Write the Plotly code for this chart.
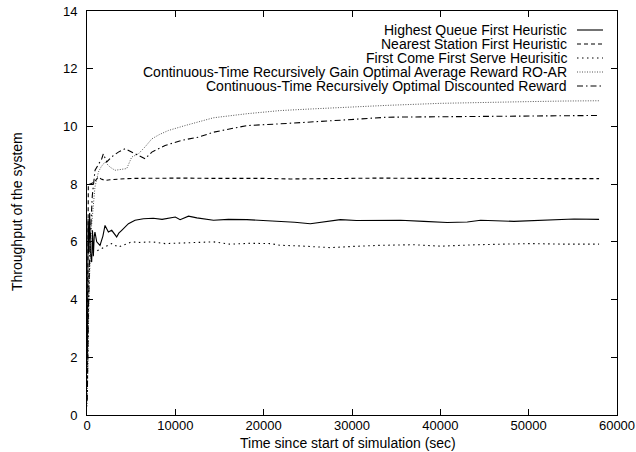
import plotly.graph_objects as go

# ---------------- data ----------------
hqf_t = [50, 120, 200, 300, 400, 530, 620, 720, 820, 900, 1100, 1470, 1800, 2040, 2420, 2800, 3360, 3600, 3930, 4300,
         4690, 5440, 6390, 7500, 8500, 10000, 10540, 11490, 12440, 14320, 16000, 18100, 20000, 21880, 23500, 25280,
         27000, 28680, 30500, 33220, 35490, 38130, 40780, 43050, 44560, 48330, 52870, 55140, 57970]
hqf_y = [2.0, 6.8, 5.6, 7.0, 5.6, 5.3, 6.4, 5.5, 6.2, 6.34, 6.0, 5.88, 6.2, 6.57, 6.34, 6.4, 6.17, 6.3, 6.4, 6.5,
         6.63, 6.75, 6.8, 6.82, 6.78, 6.86, 6.77, 6.89, 6.83, 6.75, 6.78, 6.77, 6.74, 6.72, 6.68, 6.63,
         6.7, 6.77, 6.74, 6.75, 6.75, 6.71, 6.67, 6.69, 6.75, 6.71, 6.77, 6.79, 6.78]

nsf_t = [20, 60, 100, 150, 300, 500, 700, 900, 1100, 1290, 1600, 2040, 2600, 3200, 4310, 5500, 7340, 9000, 11100,
         14000, 17000, 20000, 23000, 26000, 30000, 33220, 37000, 41000, 45000, 50000, 54000, 57970]
nsf_y = [1.0, 5.0, 7.2, 8.0, 8.0, 8.02, 8.05, 8.1, 8.2, 8.25, 8.18, 8.13, 8.15, 8.17, 8.19, 8.2, 8.21, 8.2, 8.21,
         8.2, 8.21, 8.2, 8.18, 8.19, 8.2, 8.21, 8.2, 8.2, 8.19, 8.19, 8.19, 8.19]

fcfs_t = [30, 100, 200, 340, 710, 1200, 1670, 2200, 2800, 3550, 4300, 5060, 6000, 7340, 8840, 10540, 12000, 14320,
          16210, 18500, 20750, 21880, 24000, 27550, 30000, 33220, 37000, 40020, 44000, 47000, 50230, 54000, 57970]
fcfs_y = [0.8, 3.0, 4.8, 5.42, 5.65, 5.7, 5.77, 5.85, 5.94, 5.82, 5.9, 6.0, 5.98, 6.0, 5.94, 5.96, 5.98, 6.0,
          5.92, 5.95, 5.94, 5.88, 5.86, 5.8, 5.84, 5.88, 5.9, 5.85, 5.9, 5.91, 5.94, 5.92, 5.92]

roar_t = [20, 100, 250, 500, 900, 1290, 1600, 2040, 2610, 3170, 3800, 4500, 5060, 5820, 6600, 7340, 8200, 9220,
          11100, 14320, 18100, 21880, 25660, 29440, 33980, 40000, 45000, 50000, 54000, 57970]
roar_y = [0.3, 2.0, 4.5, 6.5, 7.9, 8.42, 8.6, 8.77, 8.59, 8.48, 8.52, 8.54, 8.94, 9.05, 9.3, 9.57, 9.72, 9.86,
          10.03, 10.3, 10.44, 10.55, 10.61, 10.67, 10.73, 10.8, 10.84, 10.86, 10.88, 10.89]

disc_t = [30, 150, 350, 600, 910, 1300, 1670, 1850, 2230, 2800, 3550, 4310, 5060, 5440, 6000, 6580, 7340, 8000,
          8840, 10740, 12620, 14320, 18100, 21880, 25660, 29440, 33980, 40000, 45000, 50000, 54000, 57970]
disc_y = [0.5, 3.5, 6.0, 7.6, 8.48, 8.7, 8.88, 9.05, 8.77, 8.95, 9.11, 9.23, 9.11, 9.05, 8.95, 8.88, 9.11, 9.2,
          9.34, 9.52, 9.63, 9.8, 10.03, 10.09, 10.15, 10.23, 10.32, 10.33, 10.35, 10.36, 10.37, 10.38]

names = [
    "Highest Queue First Heuristic",
    "Nearest Station First Heuristic",
    "First Come First Serve Heurisitic",
    "Continuous-Time Recursively Gain Optimal Average Reward RO-AR",
    "Continuous-Time Recursively Optimal Discounted Reward",
]
x_ticks = [0, 10000, 20000, 30000, 40000, 50000, 60000]
y_ticks = [0, 2, 4, 6, 8, 10, 12, 14]

# ---------------- styles ----------------
FONT = "Liberation Sans, Arial, Helvetica, sans-serif"
styles = [
    dict(color="black", width=1.1, dash="solid"),
    dict(color="black", width=1.1, dash="4px,3px"),
    dict(color="black", width=1.1, dash="1.5px,3.5px"),
    dict(color="#555555", width=1.0, dash="1px,1.5px"),
    dict(color="black", width=1.1, dash="6px,3px,1.5px,3px"),
]
series = [(hqf_t, hqf_y), (nsf_t, nsf_y), (fcfs_t, fcfs_y), (roar_t, roar_y), (disc_t, disc_y)]

fig = go.Figure()
for (t, y), name, st in zip(series, names, styles):
    fig.add_trace(go.Scatter(x=t, y=y, mode="lines", name=name, line=st, showlegend=False))

# manual gnuplot-style legend (text right-aligned, key sample on the right)
L, R, T, B = 87, 617, 11, 415
W, H = R - L, B - T
row_py = [30, 44, 58, 72, 86]
text_x = (568 - L) / W
k0, k1 = (577 - L) / W, (603 - L) / W
for name, st, py in zip(names, styles, row_py):
    yp = (B - py) / H
    fig.add_annotation(x=text_x, y=yp, xref="paper", yref="paper", text=name, showarrow=False,
                       xanchor="right", yanchor="middle", borderpad=0,
                       font=dict(family=FONT, size=14, color="black"))
    fig.add_shape(type="line", xref="paper", yref="paper", x0=k0, x1=k1, y0=yp, y1=yp,
                  line=dict(color=st["color"], width=st["width"], dash=st["dash"]))

# axis titles
fig.add_annotation(x=(348 - L) / W, y=(B - 443) / H, xref="paper", yref="paper",
                   text="Time since start of simulation (sec)", showarrow=False,
                   xanchor="center", yanchor="middle", font=dict(family=FONT, size=14, color="black"))
fig.add_annotation(x=(17 - L) / W, y=(B - 212) / H, xref="paper", yref="paper",
                   text="Throughput of the system", showarrow=False, textangle=-90,
                   xanchor="center", yanchor="middle", font=dict(family=FONT, size=14, color="black"))

axis_common = dict(showgrid=False, zeroline=False, showline=True, linecolor="black", linewidth=1,
                   mirror="ticks", ticks="inside", ticklen=6, tickwidth=1, tickcolor="black",
                   automargin=False, tickfont=dict(family=FONT, size=13, color="black"))
fig.update_xaxes(range=[0, 60000], tickvals=x_ticks, ticktext=[str(v) for v in x_ticks],
                 ticklabelstandoff=-2, **axis_common)
fig.update_yaxes(range=[0, 14], tickvals=y_ticks, ticktext=[str(v) for v in y_ticks],
                 ticklabelstandoff=6, **axis_common)

fig.update_layout(width=636, height=452, margin=dict(l=L, r=636 - R, t=T, b=452 - B, autoexpand=False),
                  plot_bgcolor="white", paper_bgcolor="white", showlegend=False)

fig.write_html("out.html")
